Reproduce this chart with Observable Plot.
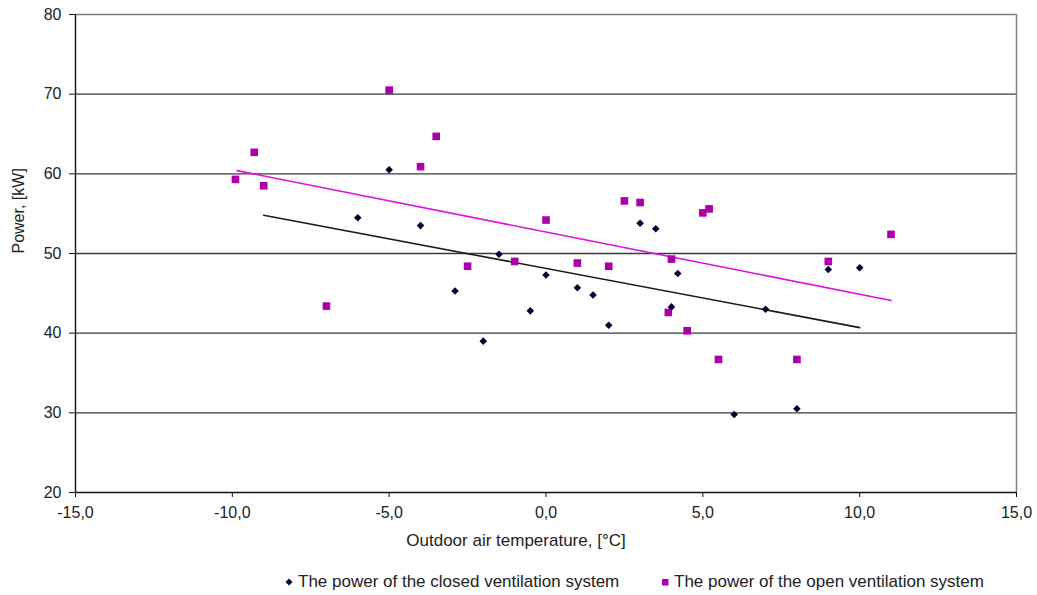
<!DOCTYPE html>
<html><head><meta charset="utf-8">
<script src="https://cdn.jsdelivr.net/npm/d3@7"></script>
<script src="https://cdn.jsdelivr.net/npm/@observablehq/plot@0.6"></script>
<style>
body{margin:0;background:#fff;font-family:"Liberation Sans",Arial,sans-serif;}
#wrap{position:relative;width:1037px;height:595px;}
#legend{position:absolute;left:0;top:572px;width:1037px;height:22px;font-size:17px;color:#222;}
#legend .item{position:absolute;top:0;display:flex;align-items:center;white-space:nowrap;}
</style>
</head><body>
<div id="wrap"><div id="chart"></div><div id="legend"></div></div>
<script>
// Closed ventilation system: outdoor temperature [°C] and power [kW]
const closedTemp  = [-5, -6, -4, -2.9, -2, -1.5, -0.5, 0, 1, 1.5, 2, 3, 3.5, 4.2, 4, 7, 6, 8, 9, 10];
const closedPower = [60.5, 54.5, 53.5, 45.3, 39.0, 49.9, 42.8, 47.3, 45.7, 44.8, 41.0, 53.8, 53.1, 47.5, 43.3, 43.0, 29.8, 30.5, 48.0, 48.2];
// Open ventilation system
const openTemp  = [-9.9, -9.3, -9, -7, -5, -4, -3.5, -2.5, -1, 0, 1, 2, 2.5, 3, 3.9, 4, 4.5, 5, 5.2, 5.5, 8, 9, 11];
const openPower = [59.3, 62.7, 58.5, 43.4, 70.5, 60.9, 64.7, 48.4, 49.0, 54.2, 48.8, 48.4, 56.6, 56.4, 42.6, 49.3, 40.3, 55.1, 55.6, 36.7, 36.7, 49.0, 52.4];
// Linear trend lines (end points)
const closedTrendTemp  = [-9, 10];
const closedTrendPower = [54.8, 40.7];
const openTrendTemp  = [-9.85, 11];
const openTrendPower = [60.4, 44.1];
// Axes
const xTicks = [-15, -10, -5, 0, 5, 10, 15];
const yTicks = [20, 30, 40, 50, 60, 70, 80];
const gridValues = [30, 40, 50, 60, 70];
const seriesNames = ["The power of the closed ventilation system", "The power of the open ventilation system"];
const xTitle = "Outdoor air temperature, [°C]";
const yTitle = "Power, [kW]";

const closedColor = "#000033";
const openColor = "#AA00AA";
const openLineColor = "#E010E0";

const closed = closedTemp.map((t, i) => ({t, p: closedPower[i]}));
const open = openTemp.map((t, i) => ({t, p: openPower[i]}));
const closedTrend = closedTrendTemp.map((t, i) => ({t, p: closedTrendPower[i]}));
const openTrend = openTrendTemp.map((t, i) => ({t, p: openTrendPower[i]}));

const fmt = d => d.toFixed(1).replace(".", ",");

const chart = Plot.plot({
  width: 1037,
  height: 560,
  marginLeft: 75,
  marginRight: 21,
  marginTop: 14,
  marginBottom: 68,
  style: {fontFamily: '"Liberation Sans", Arial, sans-serif', fontSize: "16px", color: "#222", background: "#fff"},
  x: {domain: [-15, 15], ticks: xTicks, tickFormat: fmt, label: null},
  y: {domain: [20, 80], ticks: yTicks, label: null},
  marks: [
    Plot.ruleY(gridValues, {stroke: "#3a3a3a", strokeWidth: 1.4}),
    Plot.ruleY([80], {stroke: "#808080", strokeWidth: 1.5}),
    Plot.ruleX([15], {stroke: "#808080", strokeWidth: 1.5}),
    Plot.ruleX([-15], {stroke: "#111", strokeWidth: 1.4}),
    Plot.ruleY([20], {stroke: "#111", strokeWidth: 1.4}),
    Plot.axisX({ticks: xTicks, tickFormat: fmt, tickSize: 5, tickPadding: 9, stroke: "#111", fill: "#222", fontSize: 16, label: null}),
    Plot.axisY({ticks: yTicks, tickSize: 6, tickPadding: 8, stroke: "#111", fill: "#222", fontSize: 16, label: null}),
    Plot.line(openTrend, {x: "t", y: "p", stroke: openLineColor, strokeWidth: 1.6}),
    Plot.line(closedTrend, {x: "t", y: "p", stroke: "#1a1a1a", strokeWidth: 1.6}),
    Plot.dot(open, {x: "t", y: "p", symbol: "square", r: 4.3, fill: openColor, stroke: "none"}),
    Plot.dot(closed, {x: "t", y: "p", symbol: "diamond2", r: 3.4, fill: closedColor, stroke: "none"}),
    Plot.text([xTitle], {frameAnchor: "bottom", dx: -30, dy: 48, fontSize: 17, fill: "#222", lineAnchor: "middle"}),
    Plot.text([yTitle], {frameAnchor: "left", dx: -57, rotate: -90, fontSize: 16, fill: "#222", lineAnchor: "middle"})
  ]
});
document.getElementById("chart").appendChild(chart);

// Legend
const legend = document.getElementById("legend");
const markers = [
  `<svg width="10" height="10" style="margin-right:4px"><path d="M5 1.5 L8.5 5 L5 8.5 L1.5 5 Z" fill="${closedColor}"/></svg>`,
  `<svg width="10" height="10" style="margin-right:4px"><rect x="2" y="2" width="6.5" height="6.5" fill="${openColor}"/></svg>`
];
const lefts = [284, 660];
seriesNames.forEach((name, i) => {
  const el = document.createElement("div");
  el.className = "item";
  el.style.left = lefts[i] + "px";
  el.innerHTML = markers[i] + `<span>${name}</span>`;
  legend.appendChild(el);
});
</script>
</body></html>
